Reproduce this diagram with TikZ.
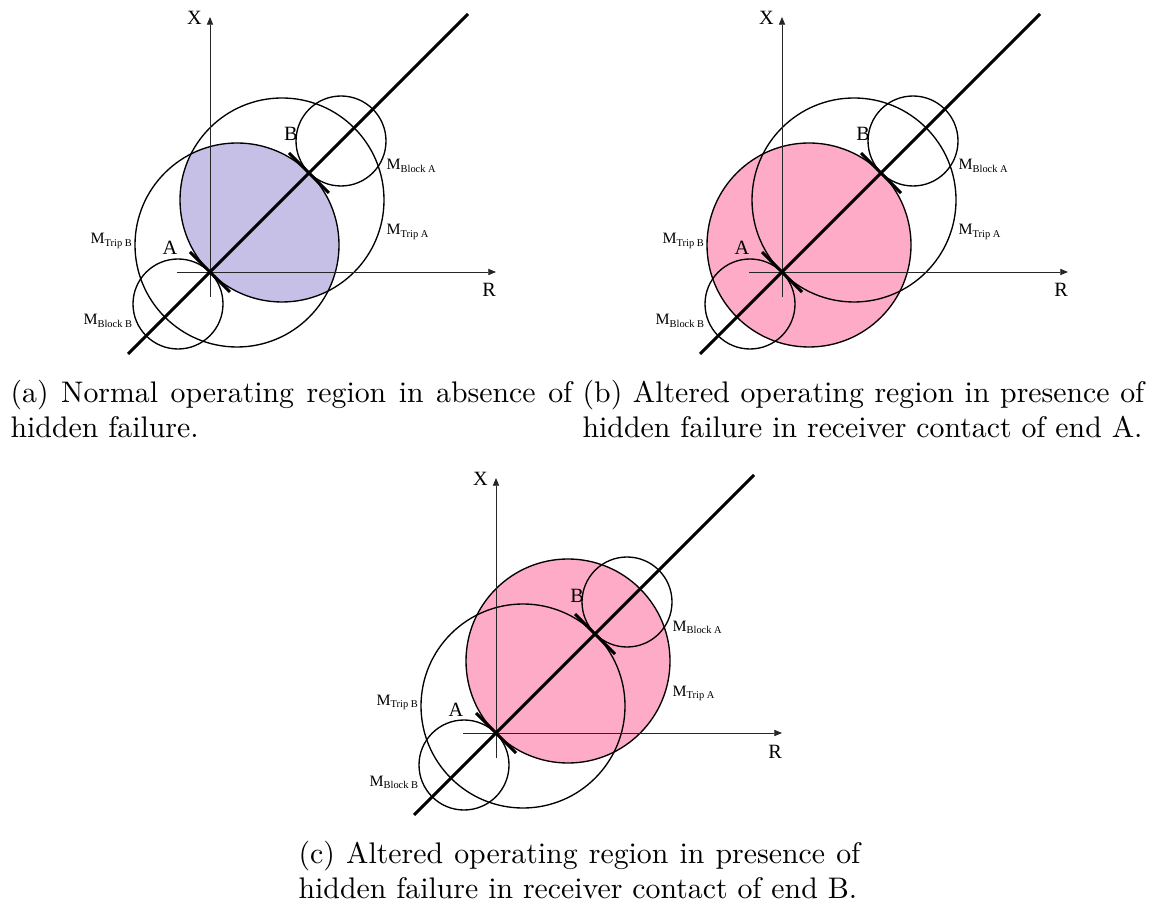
\documentclass[tikz,border=0pt]{standalone}
\usepackage{fontspec}
\usetikzlibrary{arrows.meta,calc}
\newfontfamily\tnr{Liberation Serif}
\definecolor{lav}{HTML}{C6C0E6}
\definecolor{pinkfill}{HTML}{FDABC7}
\newcommand\Mlab[1]{{\tnr\fontsize{5.3}{6}\selectfont M\raisebox{-0.9pt}{\fontsize{3.5}{4}\selectfont #1}}}
\tikzset{
  axisarrow/.style={line width=0.28pt,draw=black!85,-{Triangle[length=2.6pt,width=2.1pt]}},
  zone/.style={line width=0.45pt},
  tline/.style={line width=1.05pt},
  relaytick/.style={line width=1.05pt},
  biglab/.style={anchor=base,inner sep=0pt,font=\tnr\fontsize{6.8}{8}\selectfont},
  mlab/.style={anchor=base west,inner sep=0pt},
  captext/.style={anchor=base west,inner sep=0pt,font=\fontsize{10}{12}\selectfont}
}
\newcommand\panelgeom[1]{%
  \coordinate (#1A) at (0,0);
  \coordinate (#1B) at (99,-99);
  \coordinate (#1TA) at (72,-72);
  \coordinate (#1TB) at (27,-27);
  \coordinate (#1BA) at (131,-131);
  \coordinate (#1BB) at (-32,32);
}
\newcommand\panelrest[1]{%
  \draw[zone] (#1TA) circle (102);
  \draw[zone] (#1TB) circle (102);
  \draw[zone] (#1BA) circle (45);
  \draw[zone] (#1BB) circle (45);
  \coordinate (#1xs) at (0,25);
  \coordinate (#1xe) at (0,-255);
  \coordinate (#1rs) at (-33,0);
  \coordinate (#1re) at (286,0);
  \draw[axisarrow] (#1xs) -- (#1xe);
  \draw[axisarrow] (#1rs) -- (#1re);
  \coordinate (#1ls) at (-82,82);
  \coordinate (#1le) at (258,-258);
  \draw[tline] (#1ls) -- (#1le);
  \draw[relaytick] ($(#1A)+(-20,-20)$) -- ($(#1A)+(20,20)$);
  \draw[relaytick] ($(#1B)+(-20,-20)$) -- ($(#1B)+(20,20)$);
  \node[biglab] (#1labX) at (-15.5,-247) {X};
  \node[biglab] (#1labR) at (279,25) {R};
  \node[biglab] (#1labA) at (-40,-17) {A};
  \node[biglab] (#1labB) at (81,-131) {B};
  \node[mlab] (#1mtb) at (-120,-28) {\Mlab{Trip B}};
  \node[mlab] (#1mbb) at (-127,53) {\Mlab{Block B}};
  \node[mlab] (#1mba) at (176,-102) {\Mlab{Block A}};
  \node[mlab] (#1mta) at (176,-37) {\Mlab{Trip A}};
}
\begin{document}
\begin{tikzpicture}[x=0.3356pt,y=-0.3356pt]
\useasboundingbox (0,0) rectangle (1153,907);
% panel (a)
\begin{scope}[shift={(210,272)}]
  \panelgeom{a}
  \begin{scope}
    \clip (aTA) circle (102);
    \fill[lav] (aTB) circle (102);
  \end{scope}
  \panelrest{a}
\end{scope}
% panel (b)
\begin{scope}[shift={(782,272)}]
  \panelgeom{b}
  \fill[pinkfill] (bTB) circle (102);
  \panelrest{b}
\end{scope}
% panel (c)
\begin{scope}[shift={(496,733)}]
  \panelgeom{c}
  \fill[pinkfill] (cTA) circle (102);
  \panelrest{c}
\end{scope}
% captions
\node[captext] (ca1) at (10,403) {\makebox[188.5pt][s]{(a) Normal operating region in absence of}};
\node[captext] (ca2) at (10,438) {hidden failure.};
\node[captext] (cb1) at (582,403) {\makebox[188.5pt][s]{(b) Altered operating region in presence of}};
\node[captext] (cb2) at (582,438) {hidden failure in receiver contact of end A.};
\node[captext] (cc1) at (298,863) {\makebox[188.5pt][s]{(c) Altered operating region in presence of}};
\node[captext] (cc2) at (298,898) {hidden failure in receiver contact of end B.};
\end{tikzpicture}
\end{document}
